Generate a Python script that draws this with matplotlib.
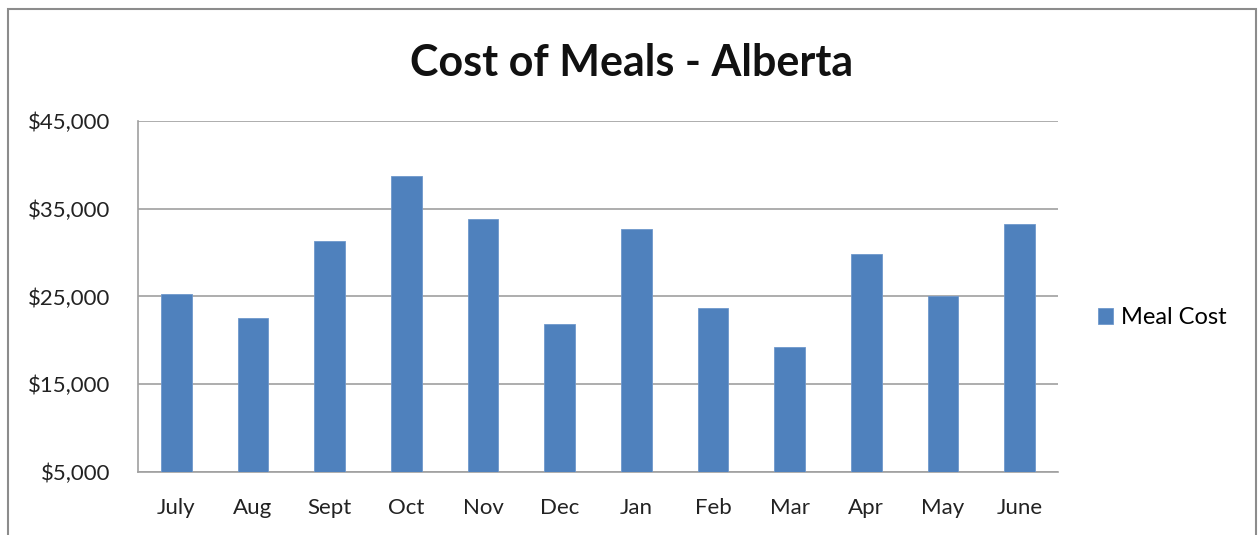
import matplotlib.pyplot as plt
from matplotlib.patches import Rectangle
from matplotlib.ticker import FuncFormatter

months = ["July", "Aug", "Sept", "Oct", "Nov", "Dec", "Jan", "Feb", "Mar", "Apr", "May", "June"]
meal_cost = [25300, 22500, 31300, 38700, 33900, 21900, 32700, 23650, 19200, 29800, 25100, 33300]
y_ticks = [5000, 15000, 25000, 35000, 45000]

plt.rcParams["font.family"] = ["Lato", "DejaVu Sans"]

fig = plt.figure(figsize=(12.58, 5.35), dpi=100)
ax = fig.add_axes([0.1097, 0.1183, 0.7313, 0.655])

x = range(len(months))
ax.bar(x, meal_cost, width=0.4, color="#4F81BD", edgecolor="#6F98CC", linewidth=0.6,
       label="Meal Cost", zorder=3)

ax.set_xlim(-0.5, len(months) - 0.5)
ax.set_ylim(5000, 45000)
ax.set_yticks(y_ticks)
ax.yaxis.set_major_formatter(FuncFormatter(lambda v, p: "${:,.0f}".format(v)))
ax.set_xticks(list(x))
ax.set_xticklabels(months)
ax.tick_params(axis="both", length=0, labelsize=16, colors="#222222")
ax.tick_params(axis="x", pad=19)
ax.tick_params(axis="y", pad=20)

ax.grid(axis="y", color="#A0A0A0", linewidth=1.2, zorder=0)
for s in ["top", "right"]:
    ax.spines[s].set_visible(False)
for s in ["left", "bottom"]:
    ax.spines[s].set_color("#A0A0A0")
    ax.spines[s].set_linewidth(1.2)

fig.text(0.502, 0.883, "Cost of Meals - Alberta", ha="center", va="center",
         fontsize=31, fontweight="bold", color="#111111")

ax.legend(loc="center left", bbox_to_anchor=(1.02, 0.44), frameon=False,
          fontsize=17, handlelength=0.65, handleheight=0.65, handletextpad=0.35)

fig.patches.append(Rectangle((8 / 1258, -0.1), 1248 / 1258, 1.1 - 9 / 535,
                             transform=fig.transFigure, fill=False,
                             edgecolor="#8C8C8C", linewidth=1.5))

fig.savefig("out.png", dpi=100)
